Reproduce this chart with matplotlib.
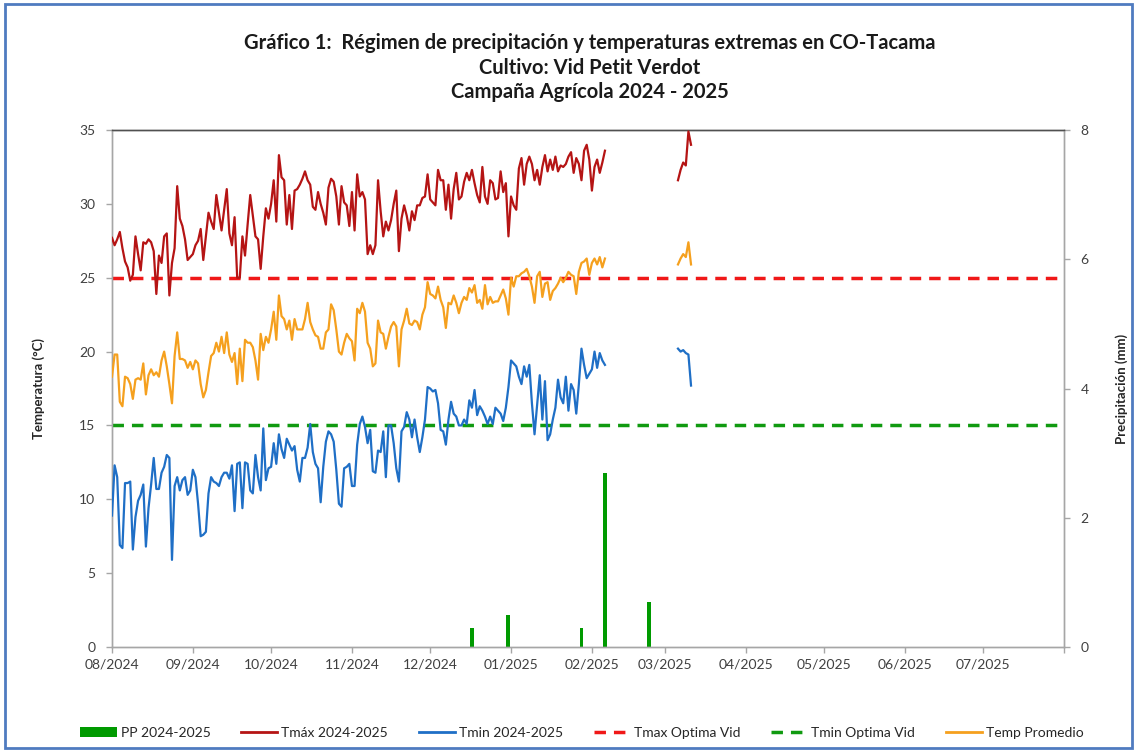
import matplotlib
matplotlib.use('Agg')
import matplotlib.pyplot as plt
from matplotlib.patches import Patch, Rectangle
from matplotlib.lines import Line2D
import pandas as pd

plt.rcParams['font.family'] = ['Lato', 'DejaVu Sans']

# ---------------- data ----------------
title_lines = ["Gráfico 1:  Régimen de precipitación y temperaturas extremas en CO-Tacama",
               "Cultivo: Vid Petit Verdot",
               "Campaña Agrícola 2024 - 2025"]

start_seg1 = '2024-08-01'
start_seg2 = '2025-03-06'

tmax_seg1 = [27.7, 27.2, 27.6, 28.1, 27.0, 26.1, 25.7, 24.8, 25.2, 27.8,
             26.6, 25.5, 27.4, 27.3, 27.6, 27.4, 26.8, 23.9, 26.5, 26.0,
             27.8, 28.0, 23.8, 26.0, 27.0, 31.2, 29.0, 28.5, 27.6, 26.2,
             26.4, 26.6, 27.2, 27.5, 28.3, 26.2, 27.8, 29.4, 28.8, 28.3,
             30.6, 29.4, 28.2, 29.6, 31.0, 28.0, 27.2, 29.1, 25.0, 25.0,
             27.8, 26.5, 28.6, 30.6, 29.2, 27.8, 27.6, 25.6, 27.8, 29.7,
             29.0, 30.0, 31.6, 28.8, 33.3, 31.8, 31.6, 28.6, 30.6, 28.3,
             30.9, 31.0, 31.3, 31.7, 32.2, 31.6, 31.3, 29.8, 29.6, 30.8,
             30.0, 29.4, 28.6, 31.1, 31.7, 31.5, 30.5, 28.6, 31.2, 30.1,
             29.9, 28.5, 30.8, 28.2, 32.0, 30.5, 30.8, 30.3, 26.6, 27.2,
             26.6, 27.2, 31.6, 29.5, 27.8, 28.8, 28.2, 28.9, 30.0, 30.9,
             26.8, 29.0, 29.9, 29.2, 28.2, 29.5, 28.9, 29.9, 29.9, 30.4,
             30.5, 32.0, 30.3, 30.1, 29.9, 32.3, 31.6, 31.6, 29.6, 31.3,
             29.0, 31.0, 32.1, 30.3, 30.5, 31.5, 32.1, 31.6, 32.3, 31.4,
             30.6, 30.1, 32.5, 30.5, 30.0, 31.6, 31.4, 30.3, 30.4, 32.2,
             30.8, 31.4, 27.8, 30.5, 29.9, 29.6, 32.4, 33.1, 31.3, 32.7,
             33.2, 32.7, 31.6, 32.3, 31.3, 32.5, 33.3, 32.2, 33.0, 32.3,
             33.2, 32.2, 32.6, 32.5, 32.7, 33.2, 33.5, 32.1, 33.1, 32.7,
             31.6, 33.6, 34.0, 33.0, 30.9, 32.5, 33.0, 32.1, 32.8, 33.6]
tmax_seg2 = [31.6, 32.3, 32.8, 32.6, 34.9, 34.0]

tavg_seg1 = [18.3, 19.8, 19.8, 16.6, 16.3, 18.3, 18.2, 17.8, 16.8, 18.1,
             18.2, 18.1, 19.2, 17.1, 18.4, 18.8, 18.4, 18.6, 18.3, 19.4,
             20.0, 19.0, 17.8, 16.5, 19.7, 21.3, 19.5, 19.5, 19.4, 18.9,
             19.3, 18.8, 19.4, 19.2, 17.8, 16.9, 17.4, 18.6, 19.7, 19.9,
             20.6, 20.0, 21.0, 19.9, 21.3, 19.8, 19.3, 19.9, 17.8, 20.2,
             18.0, 20.8, 20.6, 20.6, 20.3, 19.4, 18.1, 21.2, 20.1, 21.0,
             20.6, 21.5, 22.7, 20.8, 23.8, 22.4, 22.2, 21.5, 22.1, 20.8,
             22.2, 21.5, 21.5, 21.5, 22.2, 23.3, 22.0, 21.5, 21.1, 21.0,
             20.2, 20.2, 21.3, 21.5, 23.2, 22.8, 21.5, 20.0, 19.8, 20.6,
             21.2, 20.9, 20.7, 19.4, 22.9, 22.6, 23.3, 22.7, 20.6, 20.2,
             19.0, 19.2, 22.1, 21.3, 21.2, 20.2, 21.0, 21.7, 22.0, 21.7,
             19.0, 21.5, 22.1, 22.9, 21.9, 21.8, 22.1, 22.0, 21.5, 22.5,
             23.0, 24.7, 23.9, 23.8, 23.6, 24.4, 23.5, 23.0, 21.6, 23.3,
             23.2, 23.8, 23.3, 22.6, 23.3, 23.7, 23.5, 24.3, 24.0, 24.5,
             23.3, 23.5, 22.9, 24.5, 23.2, 23.7, 23.3, 23.4, 23.4, 23.8,
             24.2, 23.6, 22.5, 25.0, 24.4, 25.1, 25.1, 25.3, 25.4, 25.6,
             25.1, 24.4, 23.3, 25.1, 25.4, 23.7, 24.6, 24.7, 23.5, 24.1,
             24.3, 24.6, 25.0, 24.7, 25.0, 25.4, 25.2, 25.1, 23.9, 25.4,
             26.0, 26.1, 26.3, 25.2, 26.0, 26.3, 25.9, 26.4, 25.7, 26.3]
tavg_seg2 = [25.9, 26.3, 26.6, 26.4, 27.4, 25.9]

tmin_seg1 = [8.9, 12.3, 11.5, 6.9, 6.7, 11.1, 11.1, 11.2, 6.6, 8.8,
             9.9, 10.3, 11.0, 6.8, 9.4, 11.0, 12.8, 10.7, 10.7, 11.8,
             12.2, 13.0, 12.8, 5.9, 10.9, 11.5, 10.6, 11.3, 11.5, 10.3,
             10.6, 12.0, 11.5, 9.7, 7.5, 7.6, 7.8, 10.4, 11.5, 11.2,
             11.1, 10.9, 11.5, 11.8, 11.8, 11.4, 12.3, 9.2, 12.4, 12.5,
             9.4, 12.5, 12.4, 10.6, 10.4, 13.0, 11.5, 10.6, 14.8, 11.3,
             12.1, 12.2, 13.8, 12.4, 14.4, 13.4, 12.8, 14.1, 13.7, 13.3,
             13.6, 12.0, 11.2, 12.8, 12.8, 13.5, 15.1, 13.2, 12.4, 12.1,
             9.8, 12.2, 13.9, 14.6, 14.4, 13.9, 12.0, 9.7, 9.5, 12.1,
             12.2, 12.4, 10.9, 10.9, 13.7, 15.1, 15.6, 14.9, 13.8, 14.7,
             11.9, 11.8, 13.3, 13.2, 14.6, 11.5, 15.0, 15.0, 13.8, 12.1,
             11.2, 14.6, 14.9, 15.9, 15.4, 14.2, 15.4, 14.2, 13.2, 14.2,
             15.4, 17.6, 17.5, 17.3, 17.4, 16.5, 14.7, 14.6, 13.7, 15.4,
             16.6, 15.8, 15.6, 15.0, 15.0, 15.4, 15.1, 16.7, 16.2, 17.4,
             15.7, 16.3, 16.0, 15.6, 15.1, 15.6, 15.1, 16.2, 16.0, 15.8,
             15.3, 16.2, 17.6, 19.4, 19.2, 19.0, 18.3, 17.8, 19.0, 18.3,
             19.1, 16.5, 14.4, 16.4, 18.4, 15.4, 18.0, 14.0, 14.4, 15.4,
             16.2, 18.1, 16.9, 16.5, 18.3, 16.0, 17.8, 17.4, 15.8, 17.8,
             20.2, 19.1, 18.2, 18.5, 18.8, 20.0, 18.9, 19.9, 19.4, 19.1]
tmin_seg2 = [20.2, 20.0, 20.1, 19.9, 19.8, 17.7]

pp_dates = ['2024-12-17', '2024-12-31', '2025-01-28', '2025-02-06', '2025-02-23']
pp_values = [0.3, 0.5, 0.3, 2.7, 0.7]

tmax_optima = 25
tmin_optima = 15

month_ticks = pd.date_range('2024-08-01', '2025-08-01', freq='MS')
month_labels = ['08/2024', '09/2024', '10/2024', '11/2024', '12/2024', '01/2025',
                '02/2025', '03/2025', '04/2025', '05/2025', '06/2025', '07/2025', '']

legend_labels = ['PP 2024-2025', 'Tmáx 2024-2025', 'Tmin 2024-2025',
                 'Tmax Optima Vid', 'Tmin Optima Vid', 'Temp Promedio']

# ---------------- style ----------------
c_pp = '#009A00'
c_tmax = '#B51414'
c_tmin = '#1F6FC6'
c_tavg = '#F5A01E'
c_tmaxopt = '#F01818'
c_tminopt = '#109A10'
dash = (0, (3.3, 2.3))

dates1 = pd.date_range(start_seg1, periods=len(tmax_seg1), freq='D')
dates2 = pd.date_range(start_seg2, periods=len(tmax_seg2), freq='D')

fig = plt.figure(figsize=(11.37, 7.52), dpi=100)
ax = fig.add_axes([0.0985, 0.1396, 0.8373, 0.6875])
ax2 = ax.twinx()

ax2.bar(pd.to_datetime(pp_dates), pp_values, width=1.5, color=c_pp, zorder=2)

lw = 1.6
ax.plot(dates1, tmax_seg1, color=c_tmax, lw=lw, zorder=3)
ax.plot(dates2, tmax_seg2, color=c_tmax, lw=lw, zorder=3)
ax.plot(dates1, tavg_seg1, color=c_tavg, lw=lw, zorder=3)
ax.plot(dates2, tavg_seg2, color=c_tavg, lw=lw, zorder=3)
ax.plot(dates1, tmin_seg1, color=c_tmin, lw=lw, zorder=3)
ax.plot(dates2, tmin_seg2, color=c_tmin, lw=lw, zorder=3)
ax.axhline(tmax_optima, color=c_tmaxopt, lw=2.5, ls=dash, zorder=2)
ax.axhline(tmin_optima, color=c_tminopt, lw=2.5, ls=dash, zorder=2)

ax.set_zorder(ax2.get_zorder() + 1)
ax.patch.set_visible(False)

ax.set_xlim(month_ticks[0], month_ticks[-1])
ax.set_ylim(0, 35)
ax.set_yticks(range(0, 36, 5))
ax2.set_ylim(0, 8)
ax2.set_yticks(range(0, 9, 2))
ax.set_xticks(month_ticks)
ax.set_xticklabels(month_labels)

tick_col = '#404040'
axis_col = '#A6A6A6'
for a in (ax, ax2):
    a.tick_params(axis='both', direction='out', length=4, width=1, color=axis_col,
                  labelsize=10, labelcolor=tick_col)
    for s in a.spines.values():
        s.set_color(axis_col)
        s.set_linewidth(1)
    a.spines['top'].set_color('#505050')
ax.tick_params(axis='y', pad=8)
ax2.tick_params(axis='y', pad=8)
ax.tick_params(axis='x', pad=4)

ax.set_ylabel('Temperatura (°C)', fontsize=9.5, fontweight='bold', color='#262626')
ax.yaxis.set_label_coords(-0.07, 0.5)
ax2.set_ylabel('Precipitación (mm)', fontsize=9.5, fontweight='bold', color='#262626')
ax2.yaxis.set_label_coords(1.054, 0.5)

ys = [0.943, 0.910, 0.877]
for t, y in zip(title_lines, ys):
    fig.text(0.519, y, t, ha='center', va='center', fontsize=14.5, fontweight='bold',
             color='#1A1A1A')

handles = [Patch(facecolor=c_pp, edgecolor='none'),
           Line2D([], [], color=c_tmax, lw=2),
           Line2D([], [], color=c_tmin, lw=2),
           Line2D([], [], color=c_tmaxopt, lw=2.5, ls=dash),
           Line2D([], [], color=c_tminopt, lw=2.5, ls=dash),
           Line2D([], [], color=c_tavg, lw=2)]
fig.legend(handles, legend_labels, loc='center', bbox_to_anchor=(0.512, 0.025),
           ncol=6, frameon=False, fontsize=10, handlelength=2.6, handletextpad=0.3,
           columnspacing=2.2, labelcolor='#262626')

fig.add_artist(Rectangle((0.004, 0.005), 0.992, 0.99, transform=fig.transFigure,
                         fill=False, edgecolor='#4F7BC0', lw=2))

fig.savefig('out.png', dpi=100)
